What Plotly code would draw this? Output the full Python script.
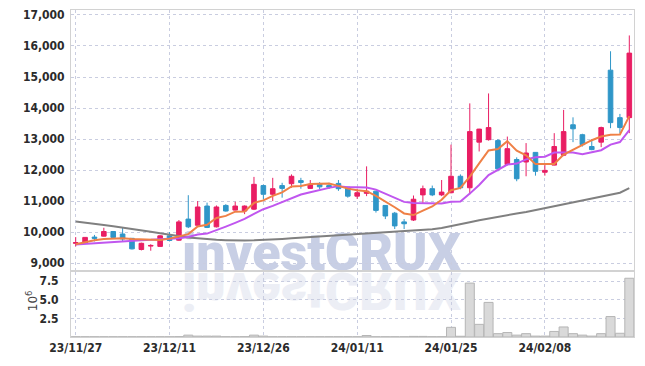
import plotly.graph_objects as go

dates = [
    "23/11/27", "23/11/28", "23/11/29", "23/11/30", "23/12/01",
    "23/12/04", "23/12/05", "23/12/06", "23/12/07", "23/12/08",
    "23/12/11", "23/12/12", "23/12/13", "23/12/14", "23/12/15",
    "23/12/18", "23/12/19", "23/12/20", "23/12/21", "23/12/22",
    "23/12/26", "23/12/27", "23/12/28", "24/01/02", "24/01/03",
    "24/01/04", "24/01/05", "24/01/08", "24/01/09", "24/01/10",
    "24/01/11", "24/01/12", "24/01/15", "24/01/16", "24/01/17",
    "24/01/18", "24/01/19", "24/01/22", "24/01/23", "24/01/24",
    "24/01/25", "24/01/26", "24/01/29", "24/01/30", "24/01/31",
    "24/02/01", "24/02/02", "24/02/05", "24/02/06", "24/02/07",
    "24/02/08", "24/02/13", "24/02/14", "24/02/15", "24/02/16",
    "24/02/19", "24/02/20", "24/02/21", "24/02/22", "24/02/23",
]

opens = [
    9640, 9650, 9840, 9870, 10020, 9940, 9800, 9440, 9550, 9540,
    9880, 9740, 10420, 10220, 10840, 10170, 10860, 10710, 10680, 10740,
    11500, 11220, 11500, 11560, 11660, 11410, 11550, 11500, 11570, 11450,
    11160, 11250, 11320, 10860, 10610, 10330, 10390, 11200, 11400, 11200,
    11270, 11800, 11430, 12900, 12980, 12950, 12180, 12340, 12260, 12570,
    11930, 12160, 12480, 13460, 13140, 12760, 12900, 15220, 13690, 13690,
]
highs = [
    9840, 9830, 9910, 10140, 10030, 10140, 9810, 9660, 9610, 9900,
    10000, 10390, 11190, 11000, 10950, 10860, 10900, 10980, 10860, 11780,
    11530, 11750, 11590, 11860, 11750, 11680, 11610, 11590, 11680, 11460,
    11400, 12120, 11330, 10870, 10650, 10420, 11180, 11500, 11500, 11680,
    12820, 11860, 14150, 13330, 14470, 13000, 13080, 12410, 12870, 12580,
    12210, 13190, 13940, 13700, 13170, 13000, 13400, 15830, 13810, 16340,
]
lows = [
    9540, 9640, 9700, 9860, 9820, 9700, 9440, 9410, 9400, 9530,
    9700, 9720, 10130, 10200, 10130, 10150, 10660, 10700, 10580, 10710,
    11050, 11000, 11110, 11430, 11400, 11390, 11380, 11390, 11330, 11110,
    11070, 11160, 10630, 10420, 10100, 10100, 10360, 10930, 11160, 11160,
    11250, 11380, 11220, 12600, 12950, 11960, 12150, 11640, 11800, 11820,
    11820, 12150, 12450, 12900, 12760, 12640, 12740, 13350, 13190, 13190,
]
closes = [
    9660, 9830, 9800, 10020, 9830, 9780, 9460, 9640, 9570, 9880,
    9730, 10330, 10170, 10810, 10150, 10810, 10680, 10840, 10840, 11540,
    11220, 11400, 11410, 11800, 11600, 11540, 11460, 11450, 11400, 11160,
    11270, 11320, 10700, 10520, 10200, 10270, 11060, 11400, 11200, 11290,
    11800, 11430, 13240, 13320, 13370, 12040, 12690, 11720, 12550, 11960,
    11990, 12760, 13240, 13330, 12820, 12660, 13370, 13530, 13370, 15770,
]

# moving averages
ma_short = [
    9610, 9680, 9740, 9780, 9800, 9805, 9780, 9765, 9745, 9745,
    9790, 9860, 9936, 10184, 10238, 10454, 10524, 10658, 10664, 10942,
    11024, 11168, 11282, 11474, 11486, 11550, 11562, 11570, 11490, 11402,
    11348, 11320, 11170, 10994, 10802, 10602, 10550, 10690, 10826, 11044,
    11350, 11424, 11792, 12216, 12632, 12680, 12932, 12628, 12474, 12192,
    12182, 12196, 12500, 12656, 12828, 12962, 13084, 13142, 13150, 13740,
]
ma_mid = [
    9600, 9620, 9650, 9680, 9700, 9720, 9730, 9740, 9750, 9760,
    9770, 9804, 9841, 9920, 9952, 10055, 10177, 10297, 10424, 10590,
    10739, 10846, 10970, 11069, 11214, 11287, 11365, 11426, 11482, 11444,
    11449, 11441, 11370, 11242, 11102, 10975, 10935, 10930, 10910, 10923,
    10976, 10987, 11241, 11521, 11838, 12015, 12178, 12210, 12345, 12412,
    12431, 12564, 12564, 12565, 12510, 12572, 12640, 12821, 12903, 13284,
]
ma_long = [
    10340, 10310, 10270, 10230, 10190, 10150, 10110, 10060, 10010, 9960,
    9910, 9870, 9830, 9800, 9770, 9750, 9740, 9730, 9730, 9735,
    9745, 9760, 9780, 9800, 9820, 9840, 9860, 9880, 9900, 9920,
    9940, 9960, 9975, 9990, 10005, 10020, 10040, 10065, 10095, 10130,
    10200, 10260, 10320, 10380, 10440, 10490, 10540, 10600, 10650, 10710,
    10770, 10830, 10890, 10950, 11010, 11070, 11130, 11200, 11270, 11420,
]

# volume in millions
volume_m = [
    0.03, 0.03, 0.03, 0.03, 0.03, 0.03, 0.03, 0.03, 0.03, 0.03,
    0.03, 0.05, 0.25, 0.12, 0.12, 0.12, 0.04, 0.03, 0.05, 0.25,
    0.12, 0.03, 0.03, 0.03, 0.03, 0.03, 0.03, 0.03, 0.03, 0.03,
    0.03, 0.20, 0.03, 0.03, 0.03, 0.03, 0.08, 0.08, 0.04, 0.04,
    1.30, 0.10, 7.25, 1.70, 4.65, 0.45, 0.60, 0.25, 0.45, 0.12,
    0.12, 0.75, 1.35, 0.45, 0.25, 0.12, 0.45, 2.75, 0.50, 7.90,
]

price_ticks = [9000, 10000, 11000, 12000, 13000, 14000, 15000, 16000, 17000]
vol_ticks = [2.5, 5.0, 7.5]
vol_tick_text = ["2.5", "5.0", "7.5"]
x_tick_labels = ["23/11/27", "23/12/11", "23/12/26", "24/01/11", "24/01/25", "24/02/08"]

UP = "#e91e63"
DOWN = "#2f96c8"
GRID = "#c9cde0"
FRAME = "#d2d2d2"
TICKFONT = dict(family="DejaVu Sans Condensed, DejaVu Sans, sans-serif",
                size=12, weight=700, color="#2b2b2b")

fig = go.Figure()

fig.add_trace(go.Candlestick(
    x=dates, open=opens, high=highs, low=lows, close=closes,
    increasing=dict(line=dict(color=UP, width=1), fillcolor=UP),
    decreasing=dict(line=dict(color=DOWN, width=1), fillcolor=DOWN),
    whiskerwidth=0, xaxis="x", yaxis="y", showlegend=False,
))
fig.add_trace(go.Scatter(x=dates, y=ma_long, mode="lines",
                         line=dict(color="#808080", width=2),
                         xaxis="x", yaxis="y", showlegend=False))
fig.add_trace(go.Scatter(x=dates, y=ma_mid, mode="lines",
                         line=dict(color="#c056ef", width=2),
                         xaxis="x", yaxis="y", showlegend=False))
fig.add_trace(go.Scatter(x=dates, y=ma_short, mode="lines",
                         line=dict(color="#ef8046", width=2),
                         xaxis="x", yaxis="y", showlegend=False))
fig.add_trace(go.Bar(x=dates, y=volume_m, marker=dict(color="#d9d9d9",
                     line=dict(color="#b5b5b5", width=1)),
                     xaxis="x2", yaxis="y2", showlegend=False))

axis_common = dict(showline=True, linecolor=FRAME, linewidth=1, mirror=True,
                   showgrid=True, gridcolor=GRID, gridwidth=1, griddash="dot",
                   zeroline=False, ticks="", automargin=False)

fig.update_layout(
    width=645, height=366,
    margin=dict(l=71, r=11, t=10, b=29, autoexpand=False),
    paper_bgcolor="white", plot_bgcolor="rgba(0,0,0,0)",
    bargap=0.04,
    xaxis=dict(type="category", range=[-0.5, 59.5], anchor="y",
               tickvals=x_tick_labels, showticklabels=False,
               rangeslider=dict(visible=False), **axis_common),
    xaxis2=dict(type="category", range=[-0.5, 59.5], anchor="y2", matches="x",
                tickvals=x_tick_labels, ticktext=x_tick_labels,
                tickfont=TICKFONT, **axis_common),
    yaxis=dict(domain=[0.205, 1.0], range=[8780, 17160], tickvals=price_ticks,
               tickformat=",d", tickfont=TICKFONT, ticklabelstandoff=3,
               **axis_common),
    yaxis2=dict(domain=[0.0, 0.199], range=[0, 8.75], tickvals=vol_ticks,
                ticktext=vol_tick_text, tickfont=TICKFONT,
                ticklabelstandoff=9, **axis_common),
    annotations=[
        dict(text="investCRUX", xref="paper", yref="paper", x=0.445, y=0.258,
             xanchor="center", yanchor="middle", showarrow=False,
             font=dict(family="Roboto, Inter, sans-serif", size=52,
                       weight=900, color="#c8cfe5")),
        dict(text="10<sup>6</sup>", xref="paper", yref="paper", x=-0.069, y=0.11,
             xanchor="center", yanchor="middle", showarrow=False, textangle=-90,
             font=dict(family="DejaVu Sans, sans-serif", size=12, color="#444")),
    ],
)

post_js = r"""
(function(){
  document.body.style.margin = '0';
  document.body.style.padding = '0';
  var gd = document.getElementById('{plot_id}');
  if (!gd) return;
  var ns = 'http://www.w3.org/2000/svg';
  var anns = gd.querySelectorAll('.infolayer g.annotation');
  var wm = null;
  for (var k = 0; k < anns.length; k++) {
    if (anns[k].textContent.trim() === 'investCRUX') { wm = anns[k]; }
  }
  if (!wm) return;
  var below = gd.querySelector('svg.main-svg g.layer-below');
  if (!below) return;
  var txt = wm.querySelector('text');
  var yb = null;
  try {
    var m = txt.getCTM();
    var ya = parseFloat(txt.getAttribute('y'));
    if (m && !isNaN(ya)) { yb = m.f + m.d * ya; }
  } catch (e) {}
  if (yb === null) { var r = txt.getBBox(); yb = r.y + 0.8 * r.height; }
  var refl = wm.cloneNode(true);
  var ts = refl.querySelectorAll('text, tspan');
  for (var i = 0; i < ts.length; i++) { ts[i].style.fill = '#eceef5'; }
  var g = document.createElementNS(ns, 'g');
  g.setAttribute('transform', 'translate(0,' + (2 * yb + 3) + ') scale(1,-1)');
  g.appendChild(refl);
  below.appendChild(g);
  below.appendChild(wm);
})();
"""

fig.write_html("out.html", post_script=post_js,
               config={"displayModeBar": False, "staticPlot": True})
